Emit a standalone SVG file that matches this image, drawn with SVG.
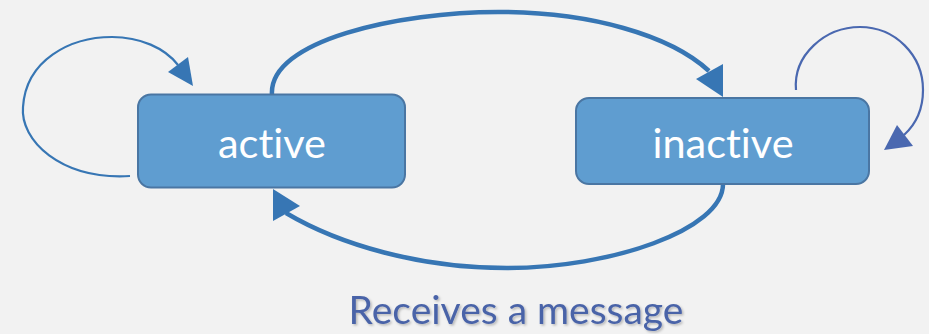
<svg xmlns="http://www.w3.org/2000/svg" width="929" height="334" viewBox="0 0 929 334">
  <defs>
    <style>
      text { font-variant-ligatures: none; font-feature-settings: "liga" 0, "clig" 0; }
      .state rect { fill: #5f9dd0; stroke: #4a76a3; stroke-width: 2; }
      .state text { fill: #ffffff; font-family: "Lato", "Open Sans", "Liberation Sans", sans-serif; font-size: 41.5px; text-anchor: middle; }
      .edge { fill: none; stroke: #3776b4; stroke-linecap: butt; }
      .thick { stroke-width: 4.5; }
      .thin { stroke-width: 2.2; }
      .head { fill: #3776b4; }
      .loop2 { stroke: #4a68b0; }
      .head2 { fill: #4a68b0; }
      .caption { fill: #4a64a8; font-family: "Lato", "Open Sans", "Liberation Sans", sans-serif; font-size: 39px; text-anchor: middle; }
    </style>
    <filter id="soft" x="-10%" y="-30%" width="120%" height="160%">
      <feDropShadow dx="1.5" dy="1.5" stdDeviation="1.2" flood-color="#000" flood-opacity="0.25"/>
    </filter>
  </defs>

  <rect x="0" y="0" width="929" height="334" fill="#f2f2f2"/>

  <g id="connectors">
    <!-- active -> inactive (upper arc) -->
    <path class="edge thick" d="M272,95 C268,40 400,12 498,12 C590,12 670,35 709,71"/>
    <polygon class="head" points="723,97 696,79 723,64"/>
    <!-- inactive -> active (lower arc) -->
    <path class="edge thick" d="M723,184 C723,230 610,268 507,268 C420,268 340,245 286,213"/>
    <polygon class="head" points="273,189 273,221 300,206"/>
    <!-- active self loop -->
    <path class="edge thin" d="M130,176 C60,180 20,140 23,107 C26,60 70,37 112,37 C140,37 165,48 178,65"/>
    <polygon class="head" points="193,86 168,72 188,57"/>
    <!-- inactive self loop -->
    <path class="edge thin loop2" d="M796,90 C793,55 825,27 860,27 C895,27 923,55 923,90 C923,110 915,125 904,135"/>
    <polygon class="head2" points="884,150 913,146 897,125"/>
  </g>

  <g id="active" class="state">
    <rect x="138" y="94.5" width="267" height="93" rx="13"/>
    <text x="272" y="158">active</text>
  </g>

  <g id="inactive" class="state">
    <rect x="576" y="98" width="293" height="86" rx="13"/>
    <text x="723" y="158">inactive</text>
  </g>

  <g id="caption">
    <text class="caption" x="516" y="324" filter="url(#soft)">Receives a message</text>
  </g>
</svg>
